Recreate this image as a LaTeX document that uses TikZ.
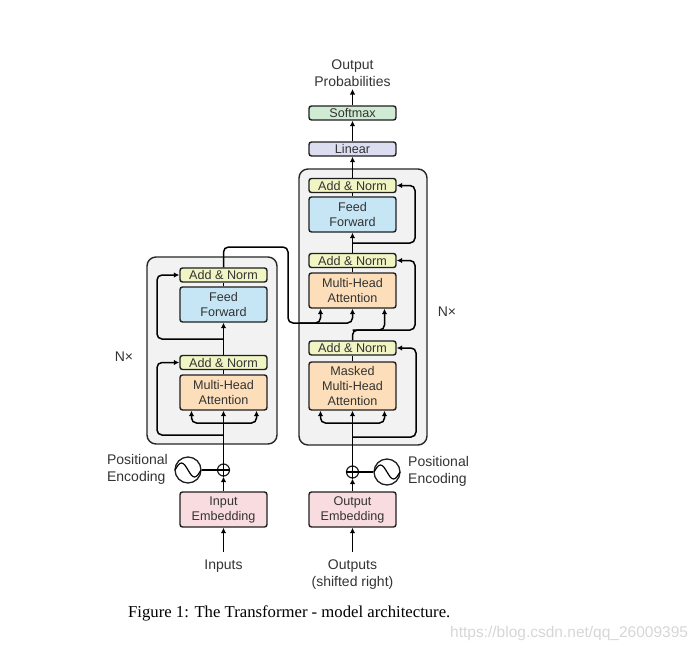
\documentclass[tikz,border=0pt]{standalone}
\usepackage{fontspec}
\setmainfont{Liberation Sans}
\newfontfamily\capfont{Liberation Serif}
\usetikzlibrary{arrows.meta}
\definecolor{txt}{HTML}{333333}
\definecolor{ancol}{HTML}{F1F4C3}
\definecolor{ffcol}{HTML}{C6E6F6}
\definecolor{mhacol}{HTML}{FCDFBA}
\definecolor{embcol}{HTML}{F9DCDF}
\definecolor{lincol}{HTML}{DCDDF1}
\definecolor{smcol}{HTML}{D0EBD3}
\definecolor{bgcol}{HTML}{F2F2F2}
\definecolor{wmcol}{HTML}{D6D6D6}
\tikzset{
  blk/.style={draw=black!88, line width=1.4pt, rounded corners=2.5pt, minimum width=87pt,
    inner sep=0pt, align=center, text=txt, font=\fontsize{12.6}{15}\selectfont},
  an/.style={blk, fill=ancol, minimum height=14pt},
  ffbox/.style={blk, fill=ffcol, minimum height=35pt},
  mha/.style={blk, fill=mhacol, minimum height=35pt},
  emb/.style={blk, fill=embcol, minimum height=35pt},
  linbox/.style={blk, fill=lincol, minimum height=14pt},
  smbox/.style={blk, fill=smcol, minimum height=14pt},
  layer/.style={draw=black!85, fill=bgcol, line width=1.4pt, rounded corners=9pt, inner sep=0pt},
  conn/.style={line width=1.5pt, rounded corners=5pt},
  arr/.style={conn, -{Latex[length=5.5pt,width=5.5pt]}},
  plus/.style={circle, draw=black!88, line width=1.2pt, minimum size=12pt, inner sep=0pt},
  pe/.style={circle, draw=black!88, line width=1.3pt, minimum size=26pt, inner sep=0pt},
  lbl/.style={text=txt, font=\fontsize{14}{17}\selectfont, inner sep=0pt},
}
\begin{document}
\begin{tikzpicture}[x=1pt,y=-1pt]
\path[use as bounding box] (0,0) rectangle (696,653);

% layer backgrounds
\node[layer, minimum width=130pt, minimum height=187pt] (encBox) at (212,350.5) {};
\node[layer, minimum width=128pt, minimum height=276pt] (decBox) at (363,307) {};

% encoder
\node[an]   (encAN2) at (223.5,275) {Add \& Norm};
\node[ffbox](encFF)  at (223.5,304.5) {Feed\\Forward};
\node[an]   (encAN1) at (223.5,362.5) {Add \& Norm};
\node[mha]  (encMHA) at (223.5,392.5) {Multi-Head\\Attention};
\node[emb]  (encEmb) at (223.5,509.5) {Input\\Embedding};
\node[plus] (encAdd) at (223.5,470) {};
\node[pe]   (encPE)  at (188,470) {};
\node[lbl, anchor=east, align=left] (encPEl) at (168,469.5) {Positional\\Encoding};
\node[lbl] (inputs) at (223.5,566) {Inputs};
\node[lbl] (encN) at (124,357) {N×};
\coordinate (inS) at (223.5,552);

% decoder
\node[an]   (decAN3) at (352.5,185.5) {Add \& Norm};
\node[ffbox](decFF)  at (352.5,214.5) {Feed\\Forward};
\node[an]   (decAN2) at (352.5,260.5) {Add \& Norm};
\node[mha]  (decMHA) at (352.5,290.5) {Multi-Head\\Attention};
\node[an]   (decAN1) at (352.5,348) {Add \& Norm};
\node[mha, minimum height=48pt] (decMMHA) at (352.5,386) {Masked\\Multi-Head\\Attention};
\node[emb]  (decEmb) at (352.5,509.5) {Output\\Embedding};
\node[plus] (decAdd) at (352.5,472) {};
\node[pe]   (decPE)  at (387,472) {};
\node[lbl, anchor=west, align=left] (decPEl) at (408,471.5) {Positional\\Encoding};
\node[lbl, align=center] (outputs) at (352.5,575) {Outputs\\(shifted right)};
\node[lbl] (decN) at (447,312) {N×};
\coordinate (outS) at (352.5,552);

% head
\node[linbox] (linear)  at (352.5,149) {Linear};
\node[smbox]  (softmax) at (352.5,113) {Softmax};
\node[lbl, align=center] (probs) at (352.5,73.5) {Output\\Probabilities};
\coordinate (probE) at (352.5,89);

% plus signs and sine waves
\draw[line width=1.1pt] (encAdd.north) -- (encAdd.south) (encAdd.west) -- (encAdd.east);
\draw[line width=1.1pt] (decAdd.north) -- (decAdd.south) (decAdd.west) -- (decAdd.east);
\draw[line width=1.2pt] ([xshift=-13pt]encPE.center) sin ++(6.5,-7) cos ++(6.5,7) sin ++(6.5,7) cos ++(6.5,-7);
\draw[line width=1.2pt] ([xshift=-13pt]decPE.center) sin ++(6.5,-7) cos ++(6.5,7) sin ++(6.5,7) cos ++(6.5,-7);
\draw[conn] (encPE) -- (encAdd);
\draw[conn] (decAdd) -- (decPE);

% encoder connectors
\draw[arr] (inS) -- (encEmb.south);
\draw[arr] (encEmb.north) -- (encAdd.south);
\draw[arr] (encAdd.north) -- (encMHA.south);
\draw[arr] (223.5,423) -| ([xshift=-32pt]encMHA.south);
\draw[arr] (223.5,423) -| ([xshift=33pt]encMHA.south);
\draw[arr] (223.5,435) -- (157,435) |- (encAN1.west);
\draw[conn] (encMHA.north) -- (encAN1.south);
\draw[arr] (encAN1.north) -- (encFF.south);
\draw[arr] (223.5,339) -- (157,339) |- (encAN2.west);
\draw[conn] (encFF.north) -- (encAN2.south);
\draw[arr] (encAN2.north) |- (288,247) -- (288,323) -| (decMHA.south);
\draw[arr] (300,323) -| ([xshift=-32pt]decMHA.south);

% decoder connectors
\draw[arr] (outS) -- (decEmb.south);
\draw[arr] (decEmb.north) -- (decAdd.south);
\draw[arr] (decAdd.north) -- (decMMHA.south);
\draw[arr] (352.5,423) -| ([xshift=-32pt]decMMHA.south);
\draw[arr] (352.5,423) -| ([xshift=32pt]decMMHA.south);
\draw[arr] (352.5,437) -- (416,437) |- (decAN1.east);
\draw[conn] (decMMHA.north) -- (decAN1.south);
\draw[arr] (decAN1.north) -- (352.5,330) -| ([xshift=32pt]decMHA.south);
\draw[arr] (352.5,330) -- (415,330) |- (decAN2.east);
\draw[conn] (decMHA.north) -- (decAN2.south);
\draw[arr] (decAN2.north) -- (decFF.south);
\draw[arr] (352.5,243) -- (415,243) |- (decAN3.east);
\draw[conn] (decFF.north) -- (decAN3.south);
\draw[arr] (decAN3.north) -- (linear.south);
\draw[arr] (linear.north) -- (softmax.south);
\draw[arr] (softmax.north) -- (probE);

% caption and watermark
\node[anchor=base west, inner sep=0pt, font=\capfont\fontsize{16.7}{18}\selectfont] (cap) at (128,617.5)
  {Figure 1: The Transformer - model architecture.};
\node[anchor=base west, inner sep=0pt, text=wmcol, font=\fontsize{15.5}{17}\selectfont] (wm) at (450,637)
  {https://blog.csdn.net/qq\_26009395};
\end{tikzpicture}
\end{document}
